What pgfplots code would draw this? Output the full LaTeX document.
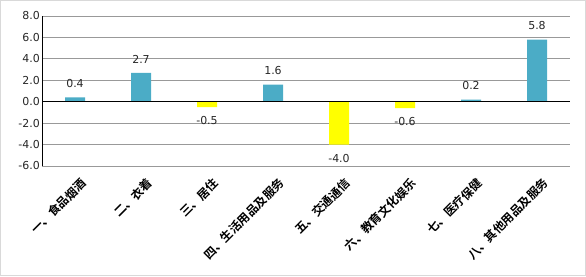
\documentclass[border=0pt]{standalone}
\usepackage{pgfplots}
\pgfplotsset{compat=1.18}
\usepackage{fontspec}
\setmainfont{DejaVu Sans}
\newfontfamily\cjk{Noto Sans CJK SC Bold}
\definecolor{barblue}{HTML}{4BACC6}
\definecolor{baryellow}{HTML}{FFFF00}
\begin{document}
\begin{tikzpicture}[x=1bp,y=1bp]
\path[use as bounding box] (0,0) rectangle (586,276);
\draw[black!15, line width=1bp] (0.5,0.5) rectangle (585.5,275.5);
\begin{axis}[
  at={(42bp,110bp)}, anchor=south west,
  scale only axis, width=528bp, height=150bp,
  xmin=-0.5, xmax=7.5, ymin=-6, ymax=8,
  ytick={-6,-4,...,8},
  yticklabel style={/pgf/number format/fixed, /pgf/number format/fixed zerofill, /pgf/number format/precision=1, inner sep=2pt},
  /pgf/number format/assume math mode=true,
  tick label style={font=\fontsize{11}{13}\selectfont, text=black!85},
  xtick={0,...,7},
  xticklabels={一、食品烟酒,二、衣着,三、居住,四、生活用品及服务,五、交通通信,六、教育文化娱乐,七、医疗保健,八、其他用品及服务},
  xticklabel style={font=\cjk\fontsize{12}{14}\selectfont, rotate=45, anchor=north east, inner sep=1pt, text=black, yshift=-7bp, xshift=0bp},
  xtick style={draw=none}, ytick style={draw=none},
  ymajorgrids, grid style={black!40, line width=0.8bp},
  axis x line*=bottom, axis y line*=left,
  axis line style={black, line width=0.9bp, -},
  x axis line style={draw=none},
  ybar, bar width=20bp, bar shift=0pt,
  nodes near coords,
  nodes near coords style={font=\fontsize{11}{13}\selectfont, text=black!85, /pgf/number format/fixed, /pgf/number format/fixed zerofill, /pgf/number format/precision=1, /pgf/number format/assume math mode=true},
  clip=false,
]
\addplot[fill=barblue, draw=none, nodes near coords style={anchor=south, yshift=6bp}] coordinates {(0,0.4) (1,2.7) (3,1.6) (6,0.2) (7,5.8)};
\addplot[fill=baryellow, draw=none, nodes near coords style={anchor=north, yshift=-6bp}] coordinates {(2,-0.5) (4,-4.0) (5,-0.6)};
\draw[black, line width=0.9bp] (axis cs:-0.5,0) -- (axis cs:7.5,0);
\end{axis}
\end{tikzpicture}
\end{document}
